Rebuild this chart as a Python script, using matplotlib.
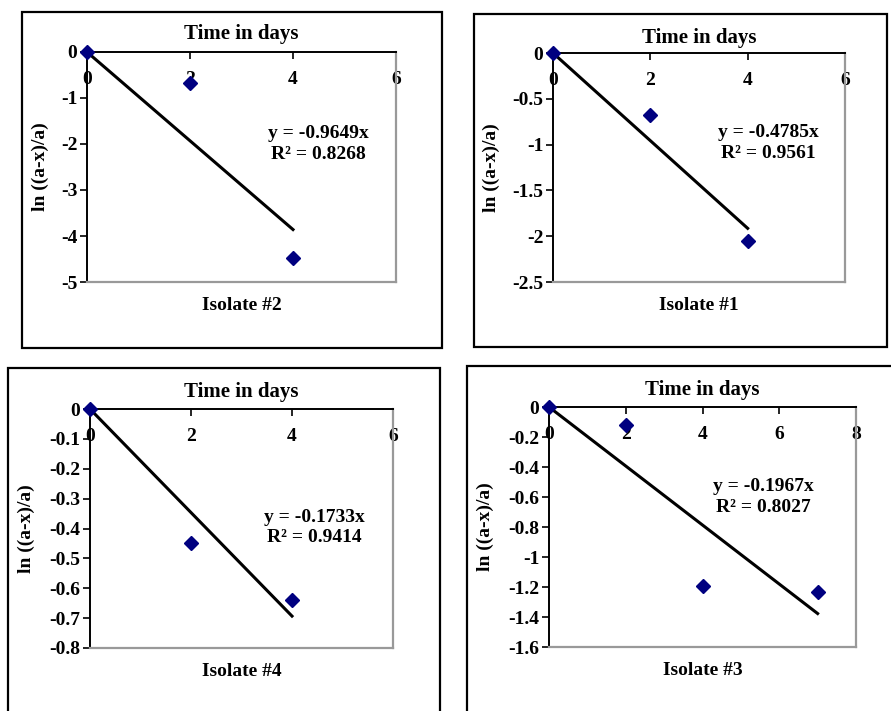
import matplotlib
matplotlib.use("Agg")
import matplotlib.pyplot as plt
from matplotlib.patches import Rectangle

plt.rcParams["font.family"] = ["Liberation Serif", "DejaVu Serif"]
plt.rcParams["font.weight"] = "bold"

W, H = 891, 711

# data per panel (order as laid out: top-left, top-right, bottom-left, bottom-right)
names = ["Isolate #2", "Isolate #1", "Isolate #4", "Isolate #3"]
days = [[0, 2, 4], [0, 2, 4], [0, 2, 4], [0, 2, 4, 7]]
ln_vals = [[0, -0.68, -4.48], [0, -0.68, -2.05], [0, -0.45, -0.64], [0, -0.12, -1.19, -1.23]]
slopes = [-0.9649, -0.4785, -0.1733, -0.1967]
r2 = [0.8268, 0.9561, 0.9414, 0.8027]
x_ticks = [[0, 2, 4, 6], [0, 2, 4, 6], [0, 2, 4, 6], [0, 2, 4, 6, 8]]
y_ticks = [[0, -1, -2, -3, -4, -5],
           [0, -0.5, -1, -1.5, -2, -2.5],
           [0, -0.1, -0.2, -0.3, -0.4, -0.5, -0.6, -0.7, -0.8],
           [0, -0.2, -0.4, -0.6, -0.8, -1, -1.2, -1.4, -1.6]]

# layout in pixels: plot area (left, top, right, bottom), outer frame (left, top, right, bottom)
plot_px = [(87, 52, 396, 282), (553, 53, 845, 282), (90, 409, 393, 648), (549, 407, 856, 647)]
frame_px = [(22, 12, 442, 348), (474, 14, 887, 347), (8, 368, 440, 730), (467, 366, 910, 730)]
eq_pos = [(0.75, 0.60), (0.736, 0.607), (0.739, 0.505), (0.697, 0.625)]
ylabel_pad = [8.5, 9, 10.5, 10]
title_pad = [9, 7, 9, 9]

fig = plt.figure(figsize=(W / 100, H / 100), dpi=100)

for i in range(4):
    fl, ft, fr, fb = frame_px[i]
    fig.patches.append(Rectangle((fl / W, 1 - fb / H), (fr - fl) / W, (fb - ft) / H,
                                 transform=fig.transFigure, fill=False,
                                 edgecolor="black", linewidth=1.6))

    l, t, r, b = plot_px[i]
    ax = fig.add_axes([l / W, 1 - b / H, (r - l) / W, (b - t) / H])

    x = days[i]
    ax.plot(x, ln_vals[i], linestyle="none", marker="D", markersize=7,
            color="#000080", zorder=4, clip_on=False)
    xfit = [0, max(x)]
    ax.plot(xfit, [slopes[i] * v for v in xfit], color="black", linewidth=2.2,
            zorder=3, clip_on=False)

    ax.set_xlim(x_ticks[i][0], x_ticks[i][-1])
    ax.set_ylim(y_ticks[i][-1], y_ticks[i][0])
    ax.set_xticks(x_ticks[i])
    ax.set_yticks(y_ticks[i])
    ax.set_xticklabels([f"{v:g}" for v in x_ticks[i]])
    ax.set_yticklabels([f"{v:g}" for v in y_ticks[i]])

    ax.xaxis.set_ticks_position("top")
    ax.tick_params(axis="x", direction="in", length=5, width=1.2, pad=-26,
                   labelsize=14, top=True, bottom=False, labeltop=True, labelbottom=False)
    ax.tick_params(axis="y", direction="out", length=5, width=1.2, pad=2, labelsize=14)

    for s in ["top", "left"]:
        ax.spines[s].set_color("black")
        ax.spines[s].set_linewidth(1.4)
    for s in ["right", "bottom"]:
        ax.spines[s].set_color("#999999")
        ax.spines[s].set_linewidth(1.6)

    ax.set_title("Time in days", fontsize=15, fontweight="bold", y=1.0, pad=title_pad[i])
    ax.set_ylabel("ln ((a-x)/a)", fontsize=14, fontweight="bold", labelpad=ylabel_pad[i])
    ax.annotate(names[i], xy=(0.5, 0), xycoords="axes fraction", xytext=(0, -17),
                textcoords="offset points", ha="center", va="center",
                fontsize=14, fontweight="bold")

    ax.text(eq_pos[i][0], eq_pos[i][1], f"y = {slopes[i]:.4f}x\nR² = {r2[i]:.4f}",
            transform=ax.transAxes, ha="center", va="center", fontsize=14,
            fontweight="bold", linespacing=1.25)

fig.savefig("out.png", dpi=100)
